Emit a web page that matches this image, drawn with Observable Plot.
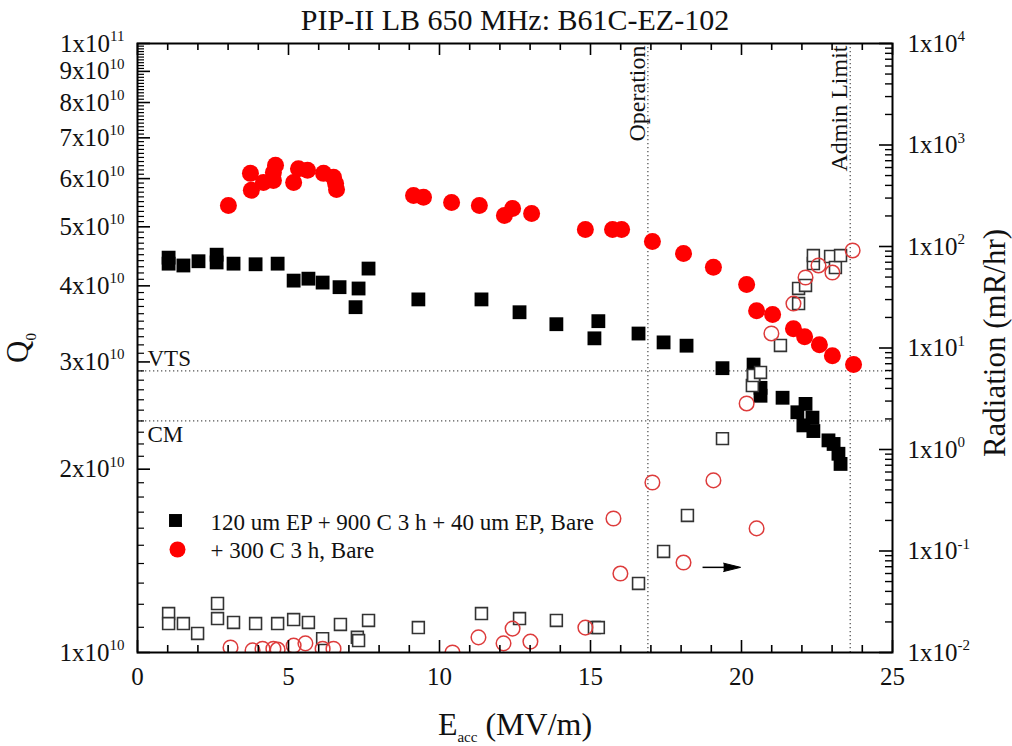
<!DOCTYPE html>
<html>
<head>
<meta charset="utf-8">
<script src="https://cdn.jsdelivr.net/npm/d3@7"></script>
<script src="https://cdn.jsdelivr.net/npm/@observablehq/plot@0.6"></script>
<style>
  html, body { margin: 0; padding: 0; background: #fff; }
  svg { display: block; }
</style>
</head>
<body>
<div id="chart"></div>
<script>
// ---------- text ----------
const chartTitle = "PIP-II LB 650 MHz: B61C-EZ-102";
const xTitle = "E_{acc} (MV/m)";
const yTitle = "Q_{0}";
const y2Title = "Radiation (mR/hr)";
const legendLabels = ["120 um EP + 900 C 3 h + 40 um EP, Bare", "+ 300 C 3 h, Bare"];
const vLineLabels = ["Operation", "Admin Limit"];
const hLineLabels = ["VTS", "CM"];

// ---------- axis ticks ----------
const xMajorTicks = [0, 5, 10, 15, 20, 25];
const xMinorTicks = [1, 2, 3, 4, 6, 7, 8, 9, 11, 12, 13, 14, 16, 17, 18, 19, 21, 22, 23, 24];
const qMajorTicks = [1e10, 2e10, 3e10, 4e10, 5e10, 6e10, 7e10, 8e10, 9e10, 1e11];
const qTickLabels = ["1x10^10", "2x10^10", "3x10^10", "4x10^10", "5x10^10", "6x10^10", "7x10^10", "8x10^10", "9x10^10", "1x10^11"];
const radMajorTicks = [1e-2, 1e-1, 1e0, 1e1, 1e2, 1e3, 1e4];
const radTickLabels = ["1x10^-2", "1x10^-1", "1x10^0", "1x10^1", "1x10^2", "1x10^3", "1x10^4"];

// ---------- reference lines ----------
const refQ = [2.9e10, 2.4e10];      // VTS, CM
const refE = [16.9, 23.6];          // Operation, Admin Limit

// ---------- data: Q0 (left axis) ----------
// 120 um EP + 900 C 3 h + 40 um EP, Bare (filled black squares)
const eBase = [1.03, 1.03, 1.52, 2.02, 2.62, 2.62, 3.18, 3.91, 4.64, 5.17, 5.66, 6.13, 6.69, 7.22, 7.32, 7.65, 9.30, 11.39, 12.65, 13.87, 15.13, 15.26, 16.59, 17.42, 18.18, 19.37, 20.40, 20.40, 20.63, 20.63, 21.36, 21.85, 22.05, 22.12, 22.35, 22.38, 22.88, 23.05, 23.21, 23.28];
const qBase = [4.45, 4.35, 4.32, 4.39, 4.50, 4.37, 4.35, 4.34, 4.35, 4.08, 4.11, 4.05, 3.98, 3.69, 3.96, 4.27, 3.80, 3.80, 3.62, 3.46, 3.28, 3.50, 3.34, 3.23, 3.19, 2.93, 2.97, 2.85, 2.72, 2.64, 2.62, 2.48, 2.36, 2.56, 2.43, 2.31, 2.23, 2.20, 2.12, 2.04]; // x1e10
// + 300 C 3 h, Bare (filled red circles)
const eBaked = [3.01, 3.74, 3.77, 4.17, 4.50, 4.50, 4.57, 5.17, 5.33, 5.63, 6.16, 6.49, 6.56, 6.59, 9.14, 9.47, 10.40, 11.32, 12.15, 12.42, 13.05, 14.83, 15.73, 16.03, 17.05, 18.08, 19.07, 20.17, 20.50, 21.03, 21.72, 22.09, 22.58, 23.01, 23.71];
const qBaked = [5.42, 6.12, 5.74, 5.91, 5.96, 6.14, 6.31, 5.91, 6.23, 6.19, 6.12, 6.03, 5.89, 5.76, 5.63, 5.59, 5.48, 5.42, 5.22, 5.36, 5.26, 4.95, 4.95, 4.95, 4.73, 4.52, 4.29, 4.02, 3.64, 3.59, 3.40, 3.30, 3.20, 3.07, 2.97]; // x1e10

// ---------- data: Radiation (right axis, mR/hr) ----------
const eRadBase = [1.03, 1.03, 1.52, 1.99, 2.65, 2.65, 3.18, 3.91, 4.64, 5.17, 5.66, 6.13, 6.72, 7.28, 7.32, 7.65, 9.30, 11.39, 12.65, 13.87, 15.13, 15.26, 16.59, 17.42, 18.21, 19.37, 20.36, 20.40, 20.63, 21.29, 21.89, 21.89, 22.12, 22.38, 22.38, 22.95, 23.11, 23.28];
const radBase = [0.0242, 0.0193, 0.0193, 0.0154, 0.0304, 0.0216, 0.0198, 0.0193, 0.0193, 0.0211, 0.0198, 0.0137, 0.0189, 0.0141, 0.0131, 0.0207, 0.0176, 0.0242, 0.0216, 0.0207, 0.0176, 0.0176, 0.0479, 0.0989, 0.224, 1.28, 4.27, 5.36, 5.74, 10.6, 27.4, 38.6, 41.3, 68.0, 81.5, 79.7, 62.1, 81.5];
const eRadBaked = [3.08, 3.81, 4.14, 4.50, 4.64, 5.17, 5.56, 6.13, 6.49, 10.43, 11.29, 12.12, 12.42, 13.01, 14.83, 15.76, 15.99, 17.05, 18.08, 19.07, 20.17, 20.50, 20.99, 21.72, 22.12, 22.55, 23.01, 23.68];
const radBaked = [0.0112, 0.0105, 0.0109, 0.0109, 0.0107, 0.0117, 0.0123, 0.0109, 0.0109, 0.0100, 0.0141, 0.0123, 0.0172, 0.0128, 0.0176, 0.209, 0.060, 0.473, 0.077, 0.496, 2.84, 0.167, 13.9, 27.4, 49.5, 65.0, 55.4, 91.4];

// arrow (points to the right-hand axis)
const arrowE = [18.71, 19.97];
const arrowRad = 0.069;

// ---------- layout ----------
const W = 1012, H = 746;
const mL = 137, mR = 120, mT = 43, mB = 94;
const pw = W - mL - mR, ph = H - mT - mB;
const FONT = "'Liberation Serif', 'Times New Roman', serif";
const INK = "#111";

// map right-axis (1e-2..1e4, log) onto left-axis (1e10..1e11, log)
const radToQ = r => 1e10 * Math.pow(10, (Math.log10(r) + 2) / 6);

const qMinorTicks = d3.range(11, 100).filter(k => k % 10 !== 0).map(k => k * 1e9);
const radMinorTicks = [];
for (let d = -2; d < 4; d++) for (let k = 2; k <= 9; k++) radMinorTicks.push(k * Math.pow(10, d));

const baseRows = eBase.map((e, i) => ({e, q: qBase[i] * 1e10}));
const bakedRows = eBaked.map((e, i) => ({e, q: qBaked[i] * 1e10}));
const radBaseRows = eRadBase.map((e, i) => ({e, r: radBase[i]}));
const radBakedRows = eRadBaked.map((e, i) => ({e, r: radBaked[i]}));

const dotted = {stroke: "#555", strokeWidth: 1.3, strokeDasharray: "1.3,2.7"};
const txt = {lineAnchor: "middle", fill: INK};

const marks = [
  // reference lines
  Plot.ruleY(refQ, {y: d => d, ...dotted}),
  Plot.ruleX(refE, {x: d => d, ...dotted}),
  Plot.text([hLineLabels[0]], {y: () => refQ[0], text: d => d, frameAnchor: "left", textAnchor: "start", dx: 10, dy: -12, fontSize: 23, ...txt}),
  Plot.text([hLineLabels[1]], {y: () => refQ[1], text: d => d, frameAnchor: "left", textAnchor: "start", dx: 10, dy: 14, fontSize: 23, ...txt}),
  // data
  Plot.dot(baseRows, {x: "e", y: "q", symbol: "square", r: 7.8, fill: "#000", stroke: "none"}),
  Plot.dot(bakedRows, {x: "e", y: "q", symbol: "circle", r: 8.5, fill: "#ff0000", stroke: "none"}),
  Plot.dot(radBaseRows, {x: "e", y: d => radToQ(d.r), symbol: "square", r: 6.7, fill: "white", stroke: "#333", strokeWidth: 1.6, clip: true}),
  Plot.dot(radBakedRows, {x: "e", y: d => radToQ(d.r), symbol: "circle", r: 7.3, fill: "none", stroke: "#dd3b3b", strokeWidth: 1.5, clip: true}),
  // arrow shaft
  Plot.link([arrowE], {x1: d => d[0], x2: d => d[1] - 0.3, y1: () => radToQ(arrowRad), y2: () => radToQ(arrowRad), stroke: "#000", strokeWidth: 1.5}),
  // x ticks (bottom & top, inward)
  Plot.ruleX(xMajorTicks, {x: d => d, insetTop: ph - 12, stroke: "#000", strokeWidth: 1.6}),
  Plot.ruleX(xMinorTicks, {x: d => d, insetTop: ph - 7, stroke: "#000", strokeWidth: 1.6}),
  Plot.ruleX(xMajorTicks, {x: d => d, insetBottom: ph - 12, stroke: "#000", strokeWidth: 1.6}),
  Plot.ruleX(xMinorTicks, {x: d => d, insetBottom: ph - 7, stroke: "#000", strokeWidth: 1.6}),
  // left ticks
  Plot.ruleY(qMajorTicks, {y: d => d, insetRight: pw - 13, stroke: "#000", strokeWidth: 1.6}),
  Plot.ruleY(qMinorTicks, {y: d => d, insetRight: pw - 7, stroke: "#000", strokeWidth: 1.2}),
  // right ticks
  Plot.ruleY(radMajorTicks, {y: d => radToQ(d), insetLeft: pw - 13, stroke: "#000", strokeWidth: 1.6}),
  Plot.ruleY(radMinorTicks, {y: d => radToQ(d), insetLeft: pw - 7, stroke: "#000", strokeWidth: 1.4}),
  Plot.frame({stroke: "#000", strokeWidth: 2}),
  // tick labels
  Plot.text(xMajorTicks, {x: d => d, text: d => String(d), frameAnchor: "bottom", dy: 24, fontSize: 25, ...txt}),
  Plot.text(qMajorTicks, {y: d => d, text: (d, i) => qTickLabels[i], frameAnchor: "left", textAnchor: "end", dx: -13, fontSize: 25, ...txt}),
  Plot.text(radMajorTicks, {y: d => radToQ(d), text: (d, i) => radTickLabels[i], frameAnchor: "right", textAnchor: "start", dx: 15, fontSize: 25, ...txt}),
  // title & axis titles
  Plot.text([chartTitle], {text: d => d, frameAnchor: "top", textAnchor: "middle", dy: -23, fontSize: 30, ...txt}),
  Plot.text([xTitle], {text: d => d, frameAnchor: "bottom", textAnchor: "middle", dy: 72, fontSize: 32, ...txt}),
  Plot.text([yTitle], {text: d => d, frameAnchor: "left", textAnchor: "middle", dx: -119, rotate: -90, fontSize: 31, ...txt}),
  Plot.text([y2Title], {text: d => d, frameAnchor: "right", textAnchor: "middle", dx: 103, dy: -5, rotate: -90, fontSize: 31, ...txt}),
  // vertical line labels
  Plot.text([vLineLabels[0]], {x: () => refE[0], text: d => d, frameAnchor: "top", textAnchor: "end", rotate: -90, dx: -11, dy: 2, fontSize: 24, ...txt}),
  Plot.text([vLineLabels[1]], {x: () => refE[1], text: d => d, frameAnchor: "top", textAnchor: "end", rotate: -90, dx: -11, dy: 2, fontSize: 24, ...txt}),
  // legend
  Plot.dot([legendLabels[0]], {frameAnchor: "top-left", dx: 38, dy: 477, symbol: "square", r: 7.3, fill: "#000"}),
  Plot.dot([legendLabels[1]], {frameAnchor: "top-left", dx: 40, dy: 506, symbol: "circle", r: 8, fill: "#ff0000"}),
  Plot.text([legendLabels[0]], {text: d => d, frameAnchor: "top-left", textAnchor: "start", dx: 73, dy: 479, fontSize: 23, ...txt}),
  Plot.text([legendLabels[1]], {text: d => d, frameAnchor: "top-left", textAnchor: "start", dx: 73, dy: 507, fontSize: 23, ...txt})
];

// arrow head (spike vector), with fallback
try {
  marks.push(Plot.vector([arrowE], {x: d => d[1], y: () => radToQ(arrowRad), length: 17, rotate: 90, anchor: "end", shape: "spike", r: 4.2, fill: "#000", stroke: "#000", strokeWidth: 1}));
} catch (e) {
  marks.push(Plot.dot([arrowE], {x: d => d[1], y: () => radToQ(arrowRad), symbol: "triangle", rotate: 90, r: 4.5, fill: "#000"}));
}

const svg = Plot.plot({
  width: W, height: H,
  marginLeft: mL, marginRight: mR, marginTop: mT, marginBottom: mB,
  x: {domain: [0, 25], axis: null},
  y: {type: "log", domain: [1e10, 1e11], axis: null},
  style: {fontFamily: FONT, background: "#fff", color: INK, overflow: "visible"},
  marks
});

// superscripts / subscripts as tspans
d3.select(svg).selectAll("text").each(function () {
  const t = this.textContent;
  const sel = d3.select(this);
  const fs = parseFloat(sel.attr("font-size")) || 25;
  let m = t.match(/^(.*?)\^(.+)$/);
  if (m) {
    sel.text(null);
    sel.append("tspan").text(m[1]);
    sel.append("tspan").attr("dy", -0.42 * fs).attr("font-size", 0.6 * fs).text(m[2]);
    return;
  }
  m = t.match(/^(.*?)_\{(.+?)\}(.*)$/);
  if (m) {
    sel.text(null);
    sel.append("tspan").text(m[1]);
    sel.append("tspan").attr("dy", 0.3 * fs).attr("font-size", 0.6 * fs).text(m[2]);
    if (m[3]) sel.append("tspan").attr("dy", -0.3 * fs).text(m[3]);
  }
});

document.getElementById("chart").appendChild(svg);
</script>
</body>
</html>
